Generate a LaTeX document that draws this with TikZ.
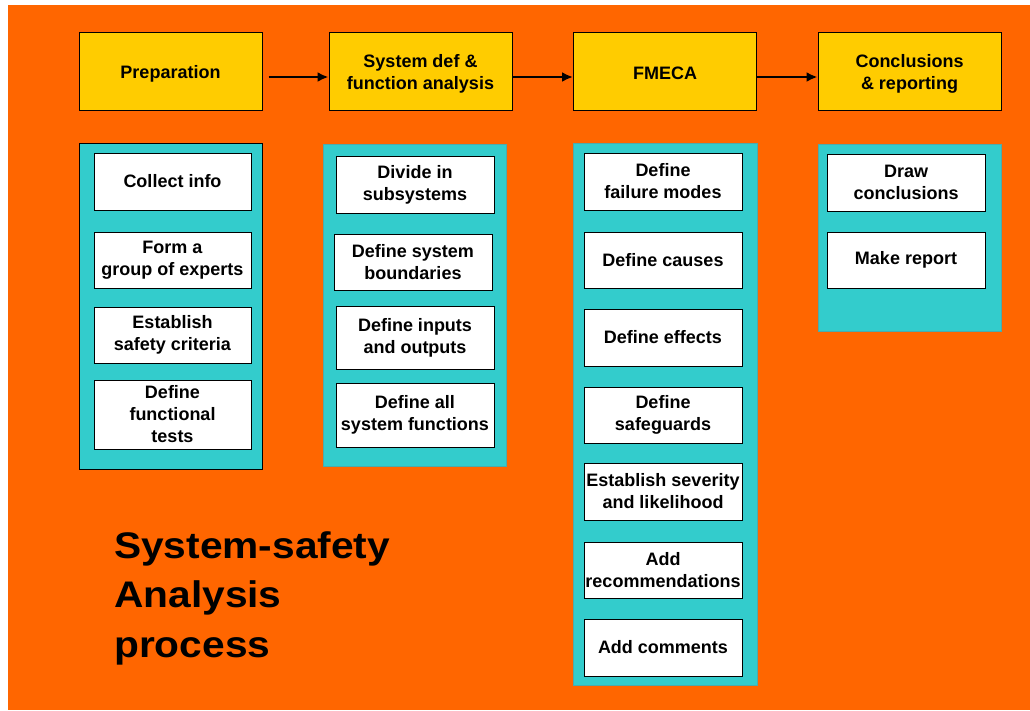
\documentclass[tikz,border=0pt]{standalone}
\usepackage{fontspec}
\setmainfont{Liberation Sans}
\newfontfamily\titlefont[FakeStretch=1.1]{Liberation Sans}
\usetikzlibrary{arrows.meta}

\definecolor{bgorange}{HTML}{FF6600}
\definecolor{phaseyellow}{HTML}{FFCC00}
\definecolor{panelcyan}{HTML}{33CCCC}
\definecolor{paneledge}{HTML}{4DAAAA}

\tikzset{
	phasetext/.style={align=center, inner sep=0pt, yshift=-2.5pt, font=\fontsize{18}{22}\selectfont\bfseries},
	phase/.style={draw=black, line width=1pt, fill=phaseyellow, minimum width=183pt, minimum height=78pt, inner sep=0pt, label={[phasetext]center:#1}},
	task/.style={draw=black, line width=1pt, fill=white, minimum width=157pt, minimum height=56pt, inner sep=0pt, align=center, font=\fontsize{18}{22}\selectfont\bfseries},
	flow/.style={line width=2.4pt, -{Latex[length=11pt,width=10pt]}}
}

\begin{document}
\begin{tikzpicture}[x=1pt, y=-1pt]
		%%%%% START %%%%%
		
		\useasboundingbox (0, 0) rectangle (1030, 710);
		\fill[white] (0, 0) rectangle (1030, 710);
		\fill[bgorange] (8, 5) rectangle (1030, 710);
		
		% phases
		\node[phase={Preparation}] (prep) at (170.5, 71) {};
		\node[phase={System def \&\\function analysis}] (sysdef) at (420.5, 71) {};
		\node[phase={FMECA}] (fmeca) at (665, 71) {};
		\node[phase={Conclusions\\\& reporting}] (concl) at (909.5, 71) {};
		
		\draw[flow, shorten <=6pt] ([yshift=-6pt]prep.east) -- ([yshift=-6pt]sysdef.west);
		\draw[flow] ([yshift=-6pt]sysdef.east) -- ([yshift=-6pt]fmeca.west);
		\draw[flow] ([yshift=-6pt]fmeca.east) -- ([yshift=-6pt]concl.west);
		
		% panels
		\draw[line width=1pt, fill=panelcyan] (79, 143) rectangle (262, 469);
		\draw[line width=1pt, draw=paneledge, fill=panelcyan] (323, 144) rectangle (506, 466);
		\draw[line width=1pt, draw=paneledge, fill=panelcyan] (573, 143) rectangle (757, 685);
		\draw[line width=1pt, draw=paneledge, fill=panelcyan] (818, 144) rectangle (1001, 331);
		
		% preparation
		\node[task, minimum height=57pt] (collect) at (172.5, 181.5) {Collect info};
		\node[task] (experts) at (172.5, 260) {Form a\\group of experts};
		\node[task] (criteria) at (172.5, 335) {Establish\\safety criteria};
		\node[task, minimum height=69pt] (tests) at (172.5, 414.5) {Define\\functional\\tests};
		
		% system definition
		\node[task, minimum width=158pt, minimum height=57pt] (divide) at (415, 184.5) {Divide in\\subsystems};
		\node[task, minimum width=158pt] (bounds) at (413, 262) {Define system\\boundaries};
		\node[task, minimum width=158pt, minimum height=63pt] (inout) at (415, 337.5) {Define inputs\\and outputs};
		\node[task, minimum width=158pt, minimum height=64pt] (funcs) at (415, 415) {Define all\\system functions};
		
		% fmeca
		\node[task, minimum width=158pt, minimum height=57pt] (modes) at (663, 181.5) {Define\\failure modes};
		\node[task, minimum width=158pt] (causes) at (663, 260) {Define causes};
		\node[task, minimum width=158pt, minimum height=57pt] (effects) at (663, 337.5) {Define effects};
		\node[task, minimum width=158pt] (guards) at (663, 415) {Define\\safeguards};
		\node[task, minimum width=158pt, minimum height=57pt] (severity) at (663, 491.5) {Establish severity\\and likelihood};
		\node[task, minimum width=158pt] (recs) at (663, 570) {Add\\recommendations};
		\node[task, minimum width=158pt, minimum height=57pt] (comments) at (663, 647.5) {Add comments};
		
		% conclusions
		\node[task, minimum width=158pt, minimum height=57pt] (draw) at (906, 182.5) {Draw\\conclusions};
		\node[task, minimum width=158pt] (report) at (906, 260) {Make report};
		
		% title
		\node[anchor=north west, inner sep=0pt, align=left, font=\titlefont\fontsize{37}{49.5}\selectfont\bfseries] (title) at (114, 531) {System-safety\\Analysis\\process};
		
		%%%%% END %%%%%
	\end{tikzpicture}
\end{document}
